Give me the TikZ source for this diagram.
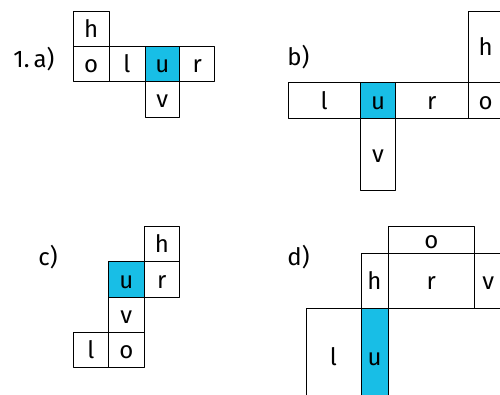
\documentclass[tikz,border=0pt]{standalone}
\usepackage{fontspec}
\setmainfont{Fira Sans}
\definecolor{facecyan}{RGB}{24,190,230}
\begin{document}
\begin{tikzpicture}[x=1pt,y=-1pt,font=\fontsize{24}{28}\selectfont,line join=round,line width=0.9pt]
	\tikzset{letter/.style={anchor=base,inner sep=0pt},tag/.style={anchor=base west,inner sep=0pt}}
	\useasboundingbox (0,0) rectangle (500,394);
	\node[tag] (ta) at (13,67) {1.\hspace{4pt}a)};
	\node[tag] (tb) at (287,65) {b)};
	\node[tag] (tc) at (38,265) {c)};
	\node[tag] (td) at (287,265) {d)};
	% blue faces
	\fill[facecyan] (145,46.7) rectangle (179.7,81.7)
	(360.3,82.7) rectangle (395.7,118.3)
	(108.7,261.7) rectangle (144,297.3)
	(361,308.7) rectangle (388,404.7);
	% a)
	\foreach \xa/\ya/\xb/\yb/\t in {73.3/11/109/46.7/h,73.3/46.7/109/81.7/o,109/46.7/145/81.7/l,145/46.7/179.7/81.7/u,179.7/46.7/214.7/81.7/r,145/81.7/179.7/117/v}
	{\draw (\xa,\ya) rectangle (\xb,\yb);
	\node[letter] (a-\t) at ({(\xa+\xb)/2},{(\ya+\yb)/2+8.5}) {\t};}
	% b)
	\foreach \xa/\ya/\xb/\yb/\t in {288/82.7/360.3/118.3/l,360.3/82.7/395.7/118.3/u,395.7/82.7/468/118.3/r,468/82.7/503.3/118.3/o,468/11/503.3/82.7/h,360.3/118.3/395.7/190.3/v}
	{\draw (\xa,\ya) rectangle (\xb,\yb);
	\node[letter] (b-\t) at ({(\xa+\xb)/2},{(\ya+\yb)/2+8.5}) {\t};}
	% c)
	\foreach \xa/\ya/\xb/\yb/\t in {144/226/179.7/261.7/h,108.7/261.7/144/297.3/u,144/261.7/179.7/297.3/r,108.7/297.3/144/332.7/v,73.3/332.7/108.7/367.3/l,108.7/332.7/144/367.3/o}
	{\draw (\xa,\ya) rectangle (\xb,\yb);
	\node[letter] (c-\t) at ({(\xa+\xb)/2},{(\ya+\yb)/2+8.5}) {\t};}
	% d)
	\foreach \xa/\ya/\xb/\yb/\t in {388/226/474.7/253.3/o,361/253.3/388/308.7/h,388/253.3/474.7/308.7/r,474.7/253.3/501.7/308.7/v,306/308.7/361/404.7/l,361/308.7/388/404.7/u}
	{\draw (\xa,\ya) rectangle (\xb,\yb);
	\node[letter] (d-\t) at ({(\xa+\xb)/2},{(\ya+\yb)/2+8.5}) {\t};}
\end{tikzpicture}
\end{document}
